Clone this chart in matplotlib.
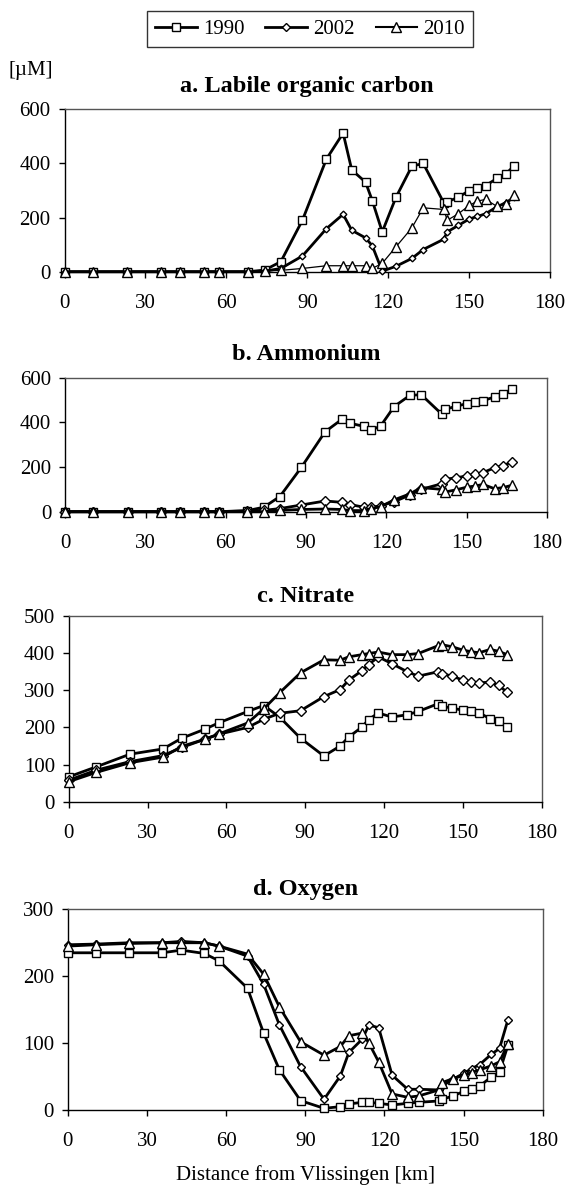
import matplotlib
matplotlib.use("Agg")
import matplotlib.pyplot as plt
from matplotlib.lines import Line2D
import numpy as np

plt.rcParams['font.family'] = ['Liberation Serif', 'DejaVu Serif']

# Station positions (km from Vlissingen)
distance = [0, 10.5, 23.3, 35.8, 43, 51.7, 57.3, 68.1, 74.2, 80.2, 88.2, 97.1, 103.3,
            106.5, 111.6, 114.1, 117.8, 122.9, 128.8, 133, 140.6, 141.9, 146, 150.1,
            153.1, 156.1, 160.4, 163.6, 166.8]

years = ['1990', '2002', '2010']

# a. Labile organic carbon [uM]
loc_1990 = [0, 0, 0, 0, 0, 0, 0, 0, 6, 37, 190, 416, 512, 376, 331, 263, 147, 275, 390, 400,
            255, 258, 275, 300, 310, 318, 345, 361, 392]
loc_2002 = [0, 0, 0, 0, 0, 0, 0, 0, 2, 12, 58, 159, 212, 153, 125, 96, 2, 20, 49, 82,
            120, 147, 171, 195, 204, 214, 240, 255, 275]
loc_2010 = [0, 0, 0, 0, 0, 0, 0, 0, 3, 5, 12, 22, 22, 22, 22, 12, 31, 92, 162, 236,
            230, 190, 214, 245, 261, 267, 241, 249, 282]

# b. Ammonium
nh4_1990 = [0, 0, 0, 0, 0, 0, 0, 5, 20, 68, 198, 358, 413, 396, 382, 365, 383, 471, 521, 524,
            438, 458, 472, 484, 491, 497, 514, 525, 550]
nh4_2002 = [0, 0, 0, 0, 0, 0, 0, 3, 6, 14, 30, 48, 42, 32, 20, 20, 26, 45, 75, 100,
            125, 145, 152, 160, 168, 175, 197, 205, 224]
nh4_2010 = [0, 0, 0, 0, 0, 0, 0, 0, 0, 6, 10, 12, 10, 5, 5, 14, 22, 53, 80, 108,
            100, 88, 98, 110, 115, 122, 103, 108, 118]

# c. Nitrate
no3_1990 = [67, 94, 128, 142, 171, 195, 213, 243, 259, 228, 171, 123, 150, 174, 201, 221, 239,
            228, 234, 243, 264, 257, 252, 246, 243, 240, 223, 216, 201]
no3_2002 = [58, 85, 108, 124, 146, 168, 182, 200, 222, 238, 245, 283, 302, 327, 353, 369, 390,
            372, 350, 338, 350, 345, 338, 327, 322, 320, 322, 313, 295]
no3_2010 = [54, 79, 105, 120, 149, 168, 183, 212, 250, 293, 347, 382, 381, 390, 396, 399, 403,
            396, 396, 399, 420, 423, 417, 408, 404, 401, 410, 405, 396]

# d. Oxygen
o2_1990 = [235, 235, 235, 235, 239, 234, 223, 182, 115, 60, 14, 2.5, 5, 9, 11.5, 11.5, 10,
           7.5, 10, 11.5, 13.5, 16, 21, 28, 32, 36, 49, 57, 97]
o2_2002 = [247, 248, 250, 250, 252, 250, 245, 230, 188, 127, 65, 16, 51, 86, 106, 127, 123,
           52, 31, 31, 30, 36, 46, 55, 62, 68, 83, 92, 135]
o2_2010 = [245, 247, 249, 250, 250, 250, 245, 233, 203, 154, 102, 82, 95, 111, 115, 100, 72,
           24, 19, 21, 30, 41, 47, 52, 56, 60, 66, 72, 99]

panels = [
    dict(title='a. Labile organic carbon', data=[loc_1990, loc_2002, loc_2010],
         ylim=(0, 600), yticks=[0, 200, 400, 600],
         rect=[64.5, 109.3, 550, 271.7], lw=[2.0, 2.0, 0.9], dms=3.4, pad=12.5),
    dict(title='b. Ammonium', data=[nh4_1990, nh4_2002, nh4_2010],
         ylim=(0, 600), yticks=[0, 200, 400, 600],
         rect=[65.2, 377.7, 547, 511.7], lw=[2.0, 2.0, 2.0], dms=5.0, pad=13),
    dict(title='c. Nitrate', data=[no3_1990, no3_2002, no3_2010],
         ylim=(0, 500), yticks=[0, 100, 200, 300, 400, 500],
         rect=[68.8, 616, 541.7, 801.7], lw=[2.0, 2.0, 2.0], dms=4.8, pad=10),
    dict(title='d. Oxygen', data=[o2_1990, o2_2002, o2_2010],
         ylim=(0, 300), yticks=[0, 100, 200, 300],
         rect=[67.8, 909.3, 542.8, 1110], lw=[2.0, 2.0, 2.0], dms=4.3, pad=10),
]

W, H = 568, 1186
fig = plt.figure(figsize=(W / 100, H / 100), dpi=100)

markers = ['s', 'D', '^']
msizes = [6.0, None, 7.5]

for p in panels:
    l, t, r, b = p['rect']
    ax = fig.add_axes([l / W, 1 - b / H, (r - l) / W, (b - t) / H])
    for i, (vals, mk) in enumerate(zip(p['data'], markers)):
        ms = p['dms'] if mk == 'D' else msizes[i]
        ax.plot(distance, vals, color='black', lw=p['lw'][i], marker=mk, ms=ms,
                mfc='white', mec='black', mew=1.0, zorder=3 + i, clip_on=False)
    ax.set_xlim(0, 180)
    ax.set_ylim(*p['ylim'])
    ax.set_xticks([0, 30, 60, 90, 120, 150, 180])
    ax.set_yticks(p['yticks'])
    ax.tick_params(direction='out', length=4, width=1.0, labelsize=15, pad=6)
    ax.tick_params(axis='x', pad=12)
    for s in ['left', 'bottom']:
        ax.spines[s].set_color('black')
        ax.spines[s].set_linewidth(1.0)
    for s in ['top', 'right']:
        ax.spines[s].set_color('#555555')
        ax.spines[s].set_linewidth(1.0)
    ax.set_title(p['title'], fontsize=17.5, fontweight='bold', pad=p['pad'])
    last_ax = ax

last_ax.set_xlabel('Distance from Vlissingen [km]', fontsize=15, labelpad=10)

fig.text(8 / W, 1 - 70 / H, '[\u00b5M]', fontsize=15, ha='left', va='center')

handles = [Line2D([], [], color='black', lw=2.0, marker='s', ms=6, mfc='white', mec='black'),
           Line2D([], [], color='black', lw=2.0, marker='D', ms=4, mfc='white', mec='black'),
           Line2D([], [], color='black', lw=1.5, marker='^', ms=7.5, mfc='white', mec='black')]
leg = fig.legend(handles, years, loc='center', bbox_to_anchor=(310 / W, 1 - 29 / H),
                 ncol=3, frameon=True, fancybox=False, edgecolor='black', fontsize=15,
                 handlelength=2.0, handletextpad=0.3, columnspacing=1.0, borderpad=0.4)
leg.get_frame().set_linewidth(1.0)

fig.savefig('out.png', dpi=100)
